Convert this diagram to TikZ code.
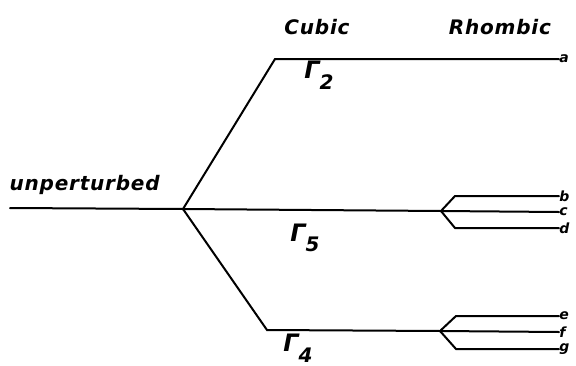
\documentclass[tikz,border=0pt]{standalone}
\usepackage{fontspec}
\setmainfont{DejaVu Sans}
\usetikzlibrary{positioning}
\tikzset{
  level/.style={line width=1.5pt, line cap=round},
  hand/.style={font=\bfseries\itshape\fontsize{15}{17}\selectfont\addfontfeature{LetterSpace=4}, inner sep=1pt},
  lvl/.style={font=\bfseries\itshape\fontsize{10.5}{12}\selectfont, inner sep=0pt, anchor=west},
  irrep/.style={font=\bfseries\itshape\fontsize{18}{20}\selectfont, inner sep=0pt}
}
\newcommand{\irr}[1]{Γ\raisebox{-0.8ex}{\fontsize{15}{17}\selectfont#1}}
\begin{document}
\begin{tikzpicture}[x=0.75pt, y=-0.75pt]
  \useasboundingbox (0,0) rectangle (576,365);
  % headings
  \node[hand] (cubic) at (317,27) {Cubic};
  \node[hand] (rhombic) at (500,27) {Rhombic};
  \node[hand, anchor=west] (unp) at (8,185) {unperturbed};
  % cubic levels
  \coordinate (u0) at (10,208);
  \coordinate (br) at (183,209);
  \coordinate (c2) at (275,59);
  \coordinate (c4) at (267,330);
  \coordinate (s5) at (441,211);
  \coordinate (s4) at (440,331);
  \node[lvl] (a) at (559,59) {a};
  \draw[level] (u0) -- (br) -- (c2) -- (a.west);
  \draw[level] (br) -- (s5);
  \draw[level] (br) -- (c4) -- (s4);
  \node[irrep] (g2) at (319,75) {\irr{2}};
  \node[irrep] (g5) at (305,238) {\irr{5}};
  \node[irrep] (g4) at (298,348) {\irr{4}};
  % rhombic splitting
  \foreach \n/\y in {b/196,c/212,d/228}
    \node[lvl] (\n) at (559,\y) {\n};
  \foreach \n/\y in {e/316,f/332,g/349}
    \node[lvl] (\n) at (559,\y) {\n};
  \draw[level] (s5) -- (455,196) -- (b.west);
  \draw[level] (s5) -- (c.west);
  \draw[level] (s5) -- (455,228) -- (d.west);
  \draw[level] (s4) -- (456,316) -- (e.west);
  \draw[level] (s4) -- (f.west);
  \draw[level] (s4) -- (456,349) -- (g.west);
\end{tikzpicture}
\end{document}
